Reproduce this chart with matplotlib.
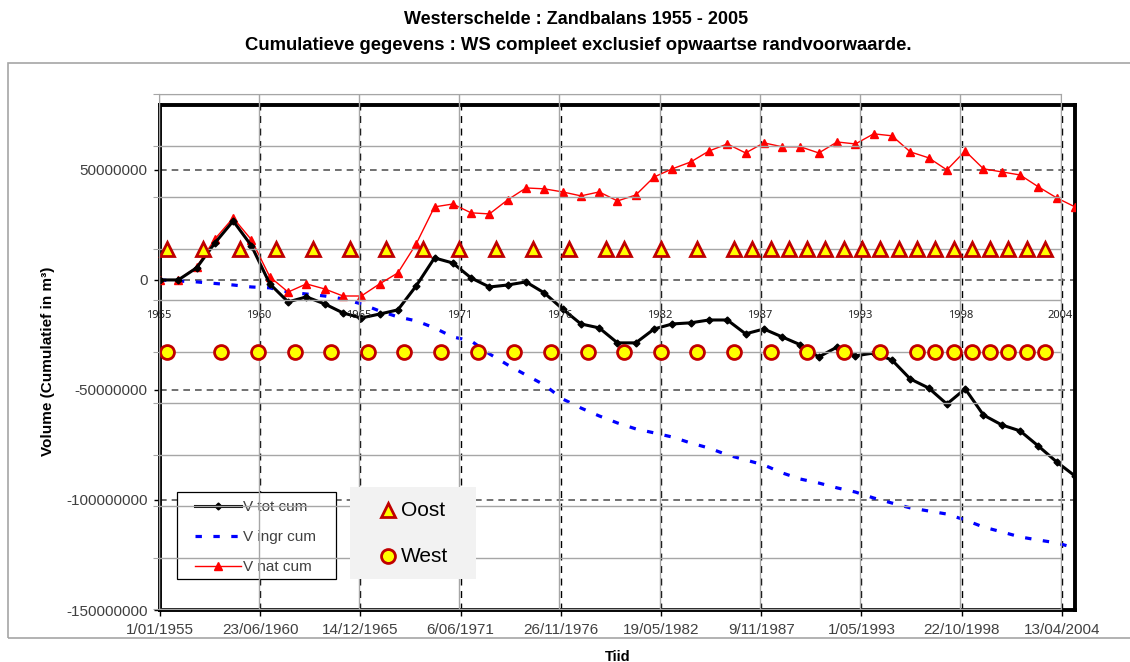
import datetime as dt
import matplotlib
matplotlib.use("Agg")
import matplotlib.pyplot as plt
from matplotlib.lines import Line2D
from matplotlib.patches import Rectangle

plt.rcParams['font.family'] = ['Liberation Sans', 'DejaVu Sans']

# yearly cumulative volumes, millions of m3 (1955 .. 2005)
years = list(range(1955, 2006))
v_tot = [0.0, 0.0, 5.5, 16.8, 26.8, 15.5, -1.8, -10.0, -7.7, -10.9,
         -15.0, -17.3, -15.5, -13.6, -2.7, 10.0, 7.7, 0.9, -3.2, -2.3,
         -0.9, -5.9, -13.2, -20.0, -21.8, -28.6, -28.6, -22.3, -20.0, -19.5,
         -18.2, -18.2, -24.5, -22.3, -25.9, -29.5, -35.0, -30.5, -34.5, -33.2,
         -36.4, -45.0, -49.1, -56.4, -49.5, -61.4, -65.9, -68.6, -75.5, -82.7,
         -89.1]
v_ingr = [0.0, -0.5, -0.9, -1.6, -2.3, -3.2, -3.6, -5.5, -6.4, -7.3,
          -8.6, -10.9, -14.1, -16.8, -18.6, -21.8, -25.9, -27.7, -33.6, -38.6,
          -43.2, -47.7, -54.1, -58.2, -61.8, -65.0, -67.7, -69.5, -71.4, -74.1,
          -76.4, -79.5, -81.8, -84.1, -87.7, -90.5, -92.3, -94.5, -96.4, -99.1,
          -101.4, -103.6, -105.0, -106.4, -109.1, -112.3, -114.5, -116.8, -118.2, -119.5,
          -121.8]
v_nat = [0.0, 0.0, 5.9, 18.6, 28.2, 18.2, 1.4, -5.5, -1.8, -4.1,
         -7.3, -7.3, -1.8, 3.2, 16.4, 33.2, 34.5, 30.5, 30.0, 36.4,
         41.8, 41.4, 40.0, 38.2, 40.0, 35.9, 38.6, 46.8, 50.5, 53.6,
         58.6, 61.8, 57.7, 62.3, 60.5, 60.5, 57.7, 62.7, 61.8, 66.4,
         65.5, 58.2, 55.5, 50.0, 58.6, 50.5, 49.1, 47.7, 42.3, 37.3,
         33.2]

# survey years of the two parts (marker rows of the overlay)
oost_years = [1955, 1957, 1959, 1961, 1963, 1965, 1967, 1969, 1971, 1973,
              1975, 1977, 1979, 1980, 1982, 1984, 1986, 1987, 1988, 1989,
              1990, 1991, 1992, 1993, 1994, 1995, 1996, 1997, 1998, 1999,
              2000, 2001, 2002, 2003]
west_years = [1955, 1958, 1960, 1962, 1964, 1966, 1968, 1970, 1972, 1974,
              1976, 1978, 1980, 1982, 1984, 1986, 1988, 1990, 1992, 1994,
              1996, 1997, 1998, 1999, 2000, 2001, 2002, 2003]

tick_dates = [dt.date(1955, 1, 1), dt.date(1960, 6, 23), dt.date(1965, 12, 14),
              dt.date(1971, 6, 6), dt.date(1976, 11, 26), dt.date(1982, 5, 19),
              dt.date(1987, 11, 9), dt.date(1993, 5, 1), dt.date(1998, 10, 22),
              dt.date(2004, 4, 13)]
tick_labels = ['1/01/1955', '23/06/1960', '14/12/1965', '6/06/1971', '26/11/1976',
               '19/05/1982', '9/11/1987', '1/05/1993', '22/10/1998', '13/04/2004']
year_labels = ['1955', '1960', '1965', '1971', '1976', '1982', '1987', '1993', '1998', '2004']
y_ticks = [-150e6, -100e6, -50e6, 0, 50e6]

W, H = 1130, 662


def box(l, t, r, b):
    return [l / W, 1 - b / H, (r - l) / W, (b - t) / H]


def fx(x):
    return x / W


def fy(y):
    return 1 - y / H


fig = plt.figure(figsize=(W / 100, H / 100), dpi=100)
fig.patches.append(Rectangle((fx(8), fy(638)), 1.2, (638 - 63) / H, transform=fig.transFigure,
                             fill=False, ec='#a6a6a6', lw=1.2))

fig.text(fx(576), fy(20), 'Westerschelde : Zandbalans 1955 - 2005',
         ha='center', va='center', fontsize=13, fontweight='bold')
fig.text(fx(578), fy(46), 'Cumulatieve gegevens : WS compleet exclusief opwaartse randvoorwaarde.',
         ha='center', va='center', fontsize=13.3, fontweight='bold')

# excel chart
ax = fig.add_axes(box(160, 105, 1075, 610))
dates = [dt.date(y, 1, 1) for y in years]
p1, = ax.plot(dates, [v * 1e6 for v in v_tot], color='black', lw=2.2,
              marker='D', ms=3.5, label='V tot cum', zorder=4)
p2, = ax.plot(dates, [v * 1e6 for v in v_ingr], color='#0000ff', lw=2.3,
              ls=(0, (2, 3.6)), label='V ingr cum', zorder=3)
p3, = ax.plot(dates, [v * 1e6 for v in v_nat], color='#ff0000', lw=1,
              marker='^', ms=5.5, label='V nat cum', zorder=3)
ax.set_xlim(dt.date(1955, 1, 1), dt.date(2005, 1, 1))
ax.set_ylim(-150e6, 79.5e6)
ax.set_xticks(tick_dates)
ax.set_xticklabels(tick_labels)
ax.set_yticks(y_ticks)
ax.set_yticklabels([str(int(v)) for v in y_ticks])
ax.grid(axis='y', color='#595959', lw=1.2, ls=(0, (4, 3)))
ax.grid(axis='x', color='black', lw=1.0, ls=(0, (5, 4)))
ax.tick_params(direction='out', length=4, width=1, labelsize=11,
               labelcolor='#404040', pad=5)
for s in ax.spines.values():
    s.set_linewidth(2.8)
    s.set_color('black')

ax.add_patch(Rectangle((fx(177), fy(579)), 159 / W, 87 / H, transform=fig.transFigure,
                       fc='white', ec='black', lw=0.9, zorder=5, clip_on=False))
leg = ax.legend(handles=[p1, p2, p3], loc='upper left', bbox_to_anchor=(fx(195), fy(500)),
                bbox_transform=fig.transFigure, fontsize=11, labelcolor='#404040',
                frameon=False, handlelength=3.0, handletextpad=0.15, labelspacing=1.05,
                borderpad=0, borderaxespad=0)
leg.set_zorder(6)

# pasted overlay with years and survey markers
ov = fig.add_axes(box(158.5, 94, 1060.5, 609))
ov.set_facecolor('none')
ov.set_xlim(dt.date(1955, 1, 1), dt.date(2004, 4, 13))
ov.set_ylim(0, 10)
ov.set_xticks(tick_dates)
ov.set_yticks(range(11))
ov.grid(color='#a6a6a6', lw=1)
ov.tick_params(labelleft=False, labelbottom=False, bottom=False, length=4, color='#a6a6a6')
for s in ov.spines.values():
    s.set_color('#a6a6a6')
for d, lab in zip(tick_dates, year_labels):
    ov.text(d, 5.69, lab, ha='center', va='center', fontsize=8, family='Noto Sans', color='#222222')

oost_style = dict(ls='none', marker='^', ms=10.5, mfc='#ffff00', mec='#c00000', mew=2)
west_style = dict(ls='none', marker='o', ms=10, mfc='#ffff00', mec='#c00000', mew=2)
ov.plot([dt.date(y, 6, 10) for y in oost_years], [7] * len(oost_years), clip_on=False, **oost_style)
ov.plot([dt.date(y, 6, 10) for y in west_years], [5] * len(west_years), clip_on=False, **west_style)

# second legend box (Oost / West)
ov.add_patch(Rectangle((fx(350), fy(579)), 126 / W, 92 / H, transform=fig.transFigure,
                       fc='#f2f2f2', ec='none', zorder=10, clip_on=False))
for yy, name, style in [(510, 'Oost', oost_style), (556, 'West', west_style)]:
    ov.add_line(Line2D([fx(388)], [fy(yy)], transform=fig.transFigure, zorder=11,
                       clip_on=False, **style))
    ov.text(fx(401), fy(yy), name, transform=fig.transFigure, fontsize=15,
            ha='left', va='center', zorder=11)

fig.text(fx(617.5), fy(650), 'Tiid', ha='center', va='top', fontsize=10.5, fontweight='bold')
fig.text(fx(48), fy(361), 'Volume (Cumulatief in m³)', rotation=90, ha='center', va='center',
         fontsize=11, fontweight='bold')

fig.savefig('out.png', dpi=100)
